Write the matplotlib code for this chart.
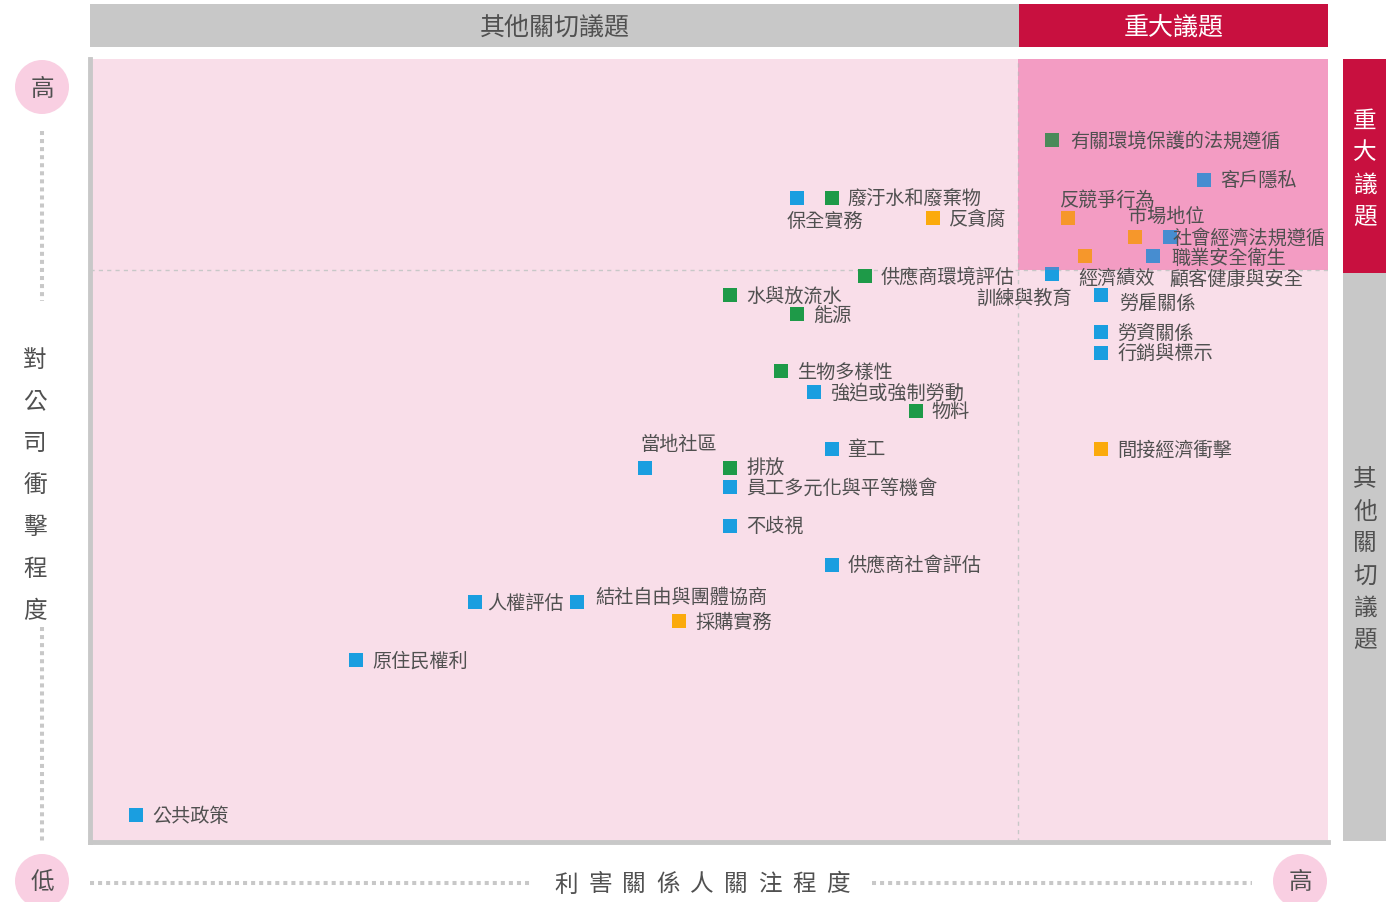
import matplotlib
matplotlib.use('Agg')
import matplotlib.pyplot as plt
from matplotlib.patches import Rectangle, Circle

plt.rcParams['font.family'] = ['Noto Sans CJK TC', 'DejaVu Sans']

# Data: stakeholder concern (x) vs. impact on company (y), 0-100 scale
green_labels = ['有關環境保護的法規遵循', '廢汙水和廢棄物', '供應商環境評估', '水與放流水',
                '能源', '生物多樣性', '物料', '排放']
green_x = [77.7, 59.9, 62.6, 51.7, 57.1, 55.8, 66.7, 51.7]
green_y = [89.7, 82.3, 72.3, 69.9, 67.4, 60.1, 55.1, 47.8]

blue_labels = ['客戶隱私', '保全實務', '社會經濟法規遵循', '職業安全衛生', '訓練與教育',
               '勞雇關係', '勞資關係', '行銷與標示', '強迫或強制勞動', '童工', '當地社區',
               '員工多元化與平等機會', '不歧視', '供應商社會評估', '人權評估',
               '結社自由與團體協商', '原住民權利', '公共政策']
blue_x = [90.0, 57.1, 87.2, 85.9, 77.7, 81.7, 81.7, 81.7, 58.5, 59.9, 44.8,
          51.7, 51.7, 59.9, 31.1, 39.3, 21.5, 3.7]
blue_y = [84.6, 82.3, 77.3, 74.9, 72.5, 69.8, 65.1, 62.5, 57.5, 50.2, 47.8,
          45.3, 40.4, 35.4, 30.6, 30.6, 23.2, 3.4]

orange_labels = ['反競爭行為', '市場地位', '經濟績效', '反貪腐', '間接經濟衝擊', '採購實務']
orange_x = [79.0, 84.4, 80.4, 68.1, 81.7, 47.6]
orange_y = [79.7, 77.3, 74.9, 79.7, 50.2, 28.2]

# label without its own visible marker
extra_labels = ['顧客健康與安全']
extra_x = [87.2]
extra_y = [72.0]

# thresholds for material topics
x_cut = 75
y_cut = 73

# label placement (pixel offsets from marker, ha); default is right of marker
label_pos = {
    '保全實務': (-10, -23, 'left'),
    '社會經濟法規遵循': (3, 0, 'left'),
    '職業安全衛生': (18, -2, 'left'),
    '訓練與教育': (-76, -23, 'left'),
    '勞雇關係': (18, -7, 'left'),
    '當地社區': (-4, 24, 'left'),
    '人權評估': (12, 0, 'left'),
    '結社自由與團體協商': (19, 6, 'left'),
    '反競爭行為': (-8, 19, 'left'),
    '市場地位': (-7, 21, 'left'),
    '經濟績效': (-7, -22, 'left'),
    '有關環境保護的法規遵循': (18, 0, 'left'),
}

GREEN = '#1e9a48'
BLUE = '#1a9ee0'
ORANGE = '#fbaa0c'
RED = '#c8103f'
GREY = '#c8c8c8'
TEXT = '#505050'
PINK_LIGHT = '#f9dee9'
PINK_DARK = '#f7b0cf'
CIRCLE = '#f9cfe2'

fig = plt.figure(figsize=(13.98, 9.03), dpi=100)

# background decoration axes in pixel coordinates
deco = fig.add_axes([0, 0, 1, 1])
deco.set_xlim(0, 1398)
deco.set_ylim(903, 0)
deco.axis('off')

# top header bars
deco.add_patch(Rectangle((90, 5), 929, 43, color=GREY, lw=0))
deco.add_patch(Rectangle((1019, 5), 309, 43, color=RED, lw=0))
deco.text(555, 28, '其他關切議題', ha='center', va='center', fontsize=18, color=TEXT)
deco.text(1174, 28, '重大議題', ha='center', va='center', fontsize=18, color='white')

# right side bars
deco.add_patch(Rectangle((1343, 60), 43, 214, color=RED, lw=0))
deco.add_patch(Rectangle((1343, 274), 43, 568, color=GREY, lw=0))
for i, ch in enumerate('重大議題'):
    deco.text(1365, 121 + i * 32, ch, ha='center', va='center', fontsize=17, color='white')
for i, ch in enumerate('其他關切議題'):
    deco.text(1365, 480 + i * 32, ch, ha='center', va='center', fontsize=17, color=TEXT)

# y axis title with circles and dotted lines
for cx, cy, ch in [(42, 88, '高'), (42, 882, '低'), (1300, 882, '高')]:
    deco.add_patch(Circle((cx, cy), 27, color=CIRCLE, lw=0))
    deco.text(cx, cy + 1, ch, ha='center', va='center', fontsize=17, color=TEXT)
dot_style = dict(color=GREY, lw=2.9, linestyle=(0, (1, 1)), solid_capstyle='butt',
                 dash_capstyle='butt')
deco.plot([42, 42], [132, 302], **dot_style)
deco.plot([42, 42], [628, 843], **dot_style)
deco.plot([90, 533], [884, 884], **dot_style)
deco.plot([872, 1252], [884, 884], **dot_style)
for i, ch in enumerate('對公司衝擊程度'):
    deco.text(35, 360 + i * 42, ch, ha='center', va='center', fontsize=17, color=TEXT)
for i, ch in enumerate('利害關係人關注程度'):
    deco.text(566 + i * 34, 885, ch, ha='center', va='center', fontsize=17, color=TEXT)

# main matrix axes
ax = fig.add_axes([90 / 1398, 60 / 903, 1238 / 1398, 783 / 903])
ax.set_xlim(0, 100)
ax.set_ylim(0, 100)
ax.set_facecolor(PINK_LIGHT)
ax.set_xticks([])
ax.set_yticks([])
for s in ['top', 'right']:
    ax.spines[s].set_visible(False)
for s in ['left', 'bottom']:
    ax.spines[s].set_color(GREY)
    ax.spines[s].set_linewidth(3.5)

# material topics region
ax.add_patch(Rectangle((x_cut, y_cut), 100 - x_cut, 100 - y_cut, color=PINK_DARK, lw=0, zorder=0.5))
ax.axvline(x_cut, color=GREY, lw=1, linestyle=(0, (3, 3)), zorder=1)
ax.axhline(y_cut, color=GREY, lw=1, linestyle=(0, (3, 3)), zorder=1)

# markers
for xs, ys, c in [(green_x, green_y, GREEN), (blue_x, blue_y, BLUE), (orange_x, orange_y, ORANGE)]:
    ax.scatter(xs, ys, marker='s', s=100, color=c, linewidths=0, zorder=2)

# tint over markers in the material region
ax.add_patch(Rectangle((x_cut, y_cut), 100 - x_cut, 100 - y_cut, color='#e8559a', alpha=0.22,
                       lw=0, zorder=3))

# labels
for labels, xs, ys in [(green_labels, green_x, green_y), (blue_labels, blue_x, blue_y),
                       (orange_labels, orange_x, orange_y)]:
    for lab, x, y in zip(labels, xs, ys):
        dx, dy, ha = label_pos.get(lab, (16, 0, 'left'))
        ax.annotate(lab, (x, y), xytext=(dx, dy), textcoords='offset pixels',
                    ha=ha, va='center', fontsize=13.8, color=TEXT, zorder=4)
for lab, x, y in zip(extra_labels, extra_x, extra_y):
    ax.text(x, y, lab, ha='left', va='center', fontsize=13.8, color=TEXT, zorder=4)

fig.savefig('out.png', dpi=100)
